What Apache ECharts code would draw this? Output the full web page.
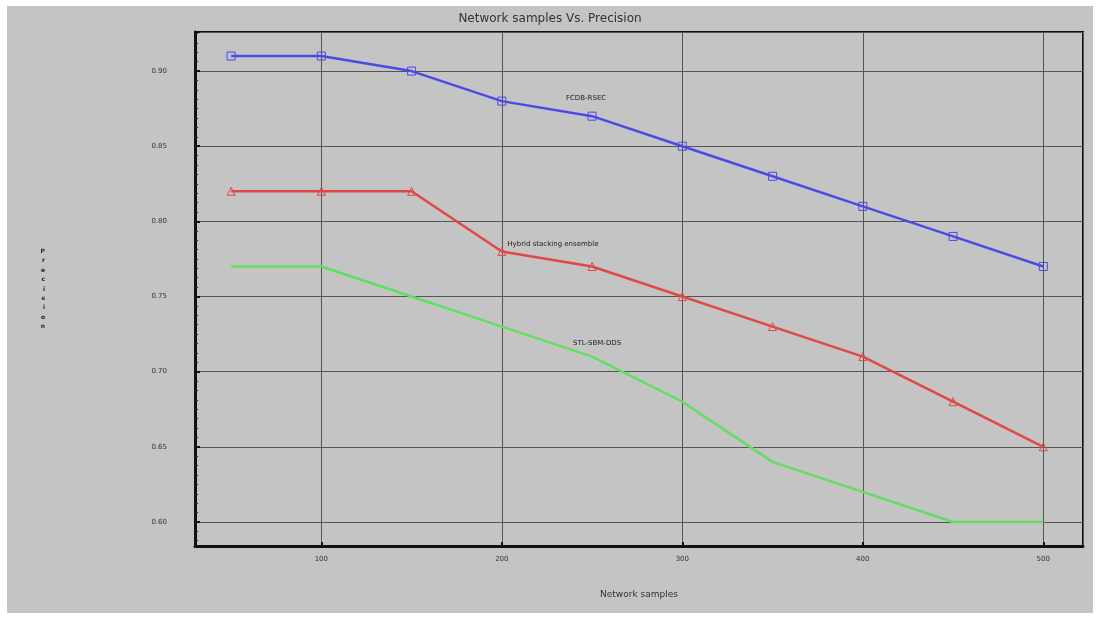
<!DOCTYPE html>
<html><head><meta charset="utf-8">
<script src="https://cdn.jsdelivr.net/npm/echarts@6/dist/echarts.min.js"></script>
<style>html,body{margin:0;background:#fff;}#c{position:absolute;left:7px;top:6px;width:1086px;height:607px;background:#c4c4c4;}</style>
</head><body><div id="c"></div>
<script>
const xValues = [50, 100, 150, 200, 250, 300, 350, 400, 450, 500];
const fcdbRsec = [0.91, 0.91, 0.90, 0.88, 0.87, 0.85, 0.83, 0.81, 0.79, 0.77];
const hybridStacking = [0.82, 0.82, 0.82, 0.78, 0.77, 0.75, 0.73, 0.71, 0.68, 0.65];
const stlSbmDds = [0.77, 0.77, 0.75, 0.73, 0.71, 0.68, 0.64, 0.62, 0.60, 0.60];
const seriesNames = ['FCDB-RSEC', 'Hybrid stacking ensemble', 'STL-SBM-DDS'];
const titleText = 'Network samples Vs. Precision';
const xName = 'Network samples';
const yName = 'Precision';

const chart = echarts.init(document.getElementById('c'));
function build(vals, labelIdx, labelCfg) {
  return xValues.map((x, i) => i === labelIdx
    ? { value: [x, vals[i]], label: Object.assign({ show: true, color: '#222', fontSize: 7, fontFamily: 'DejaVu Sans' }, labelCfg) }
    : [x, vals[i]]);
}
const mk = (name, vals, color, symbol, markerColor, labelIdx, labelCfg) => ({
  name, type: 'line', data: build(vals, labelIdx, labelCfg),
  symbol, symbolSize: 8, showSymbol: true,
  lineStyle: { color, width: 2.5 },
  itemStyle: { color: 'rgba(0,0,0,0)', borderColor: markerColor, borderWidth: 1 },
  label: { show: false, formatter: name },
  emphasis: { disabled: true }, animation: false, z: 3
});
chart.setOption({
  backgroundColor: 'transparent',
  animation: false,
  title: { text: titleText, left: 'center', top: 2, textStyle: { fontSize: 12, fontWeight: 'normal', color: '#333', fontFamily: 'DejaVu Sans' } },
  grid: { left: 188, top: 26, right: 10, bottom: 67, show: true, borderColor: '#111', borderWidth: 2, backgroundColor: 'transparent' },
  xAxis: {
    type: 'value', min: 30, max: 522,
    name: xName, nameLocation: 'middle', nameGap: 44,
    nameTextStyle: { fontSize: 9, color: '#333', fontFamily: 'DejaVu Sans' },
    axisLine: { show: true, lineStyle: { color: '#111', width: 3 } },
    axisTick: { show: true, inside: true, length: 4, lineStyle: { color: '#111', width: 2 } },
    axisLabel: { fontSize: 7, color: '#333', margin: 10, showMinLabel: false, showMaxLabel: false, fontFamily: 'DejaVu Sans' },
    splitLine: { show: true, lineStyle: { color: '#555', width: 1 } }
  },
  yAxis: {
    type: 'value', min: 0.584, max: 0.926,
    name: yName.split('').join('\n'), nameLocation: 'middle', nameGap: 150, nameRotate: 0,
    nameTextStyle: { fontSize: 6, color: '#222', fontWeight: 'bold', lineHeight: 9.4, fontFamily: 'DejaVu Sans' },
    axisLine: { show: true, lineStyle: { color: '#111', width: 3 } },
    axisTick: { show: true, inside: true, length: 5, lineStyle: { color: '#111', width: 2 } },
    minorTick: { show: true, splitNumber: 8, length: 3, lineStyle: { color: '#222', width: 1 } },
    axisLabel: { fontSize: 7, color: '#333', margin: 28, showMinLabel: false, showMaxLabel: false, formatter: v => v.toFixed(2), fontFamily: 'DejaVu Sans' },
    splitLine: { show: true, lineStyle: { color: '#555', width: 1 } }
  },
  series: [
    mk(seriesNames[0], fcdbRsec, '#4a4ae6', 'rect', '#4a4ae6', 4, { formatter: seriesNames[0], position: 'top', distance: 5, offset: [-6, -5] }),
    mk(seriesNames[1], hybridStacking, '#e04848', 'triangle', '#e04848', 3, { formatter: seriesNames[1], position: 'right', distance: 5, offset: [-4, -7] }),
    mk(seriesNames[2], stlSbmDds, '#62de62', 'circle', 'rgba(0,0,0,0)', 4, { formatter: seriesNames[2], position: 'top', distance: 5, offset: [5, 0] })
  ]
});
</script></body></html>
